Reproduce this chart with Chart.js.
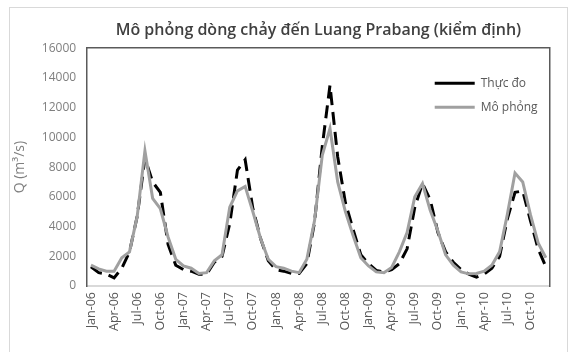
<!DOCTYPE html>
<html lang="vi">
<head>
    <meta charset="UTF-8">
    <title>Mô phỏng dòng chảy đến Luang Prabang</title>
    <script src="https://cdn.jsdelivr.net/npm/chart.js"></script>
    <style>
        html, body { margin: 0; padding: 0; background: #fff; overflow: hidden; }
        .khung { position: absolute; left: 9px; top: 7px; width: 557px; height: 360px; border: 1px solid #d9d9d9; background: #fff; }
        canvas { display: block; }
    </style>
</head>
<body>
    <div class="khung">
        <canvas id="bieudo" width="557" height="344"></canvas>
    </div>

    <script>
        // tháng Jan-06 .. Dec-10
        const thang = [
            'Jan-06', 'Feb-06', 'Mar-06', 'Apr-06', 'May-06', 'Jun-06', 'Jul-06', 'Aug-06', 'Sep-06', 'Oct-06', 'Nov-06', 'Dec-06',
            'Jan-07', 'Feb-07', 'Mar-07', 'Apr-07', 'May-07', 'Jun-07', 'Jul-07', 'Aug-07', 'Sep-07', 'Oct-07', 'Nov-07', 'Dec-07',
            'Jan-08', 'Feb-08', 'Mar-08', 'Apr-08', 'May-08', 'Jun-08', 'Jul-08', 'Aug-08', 'Sep-08', 'Oct-08', 'Nov-08', 'Dec-08',
            'Jan-09', 'Feb-09', 'Mar-09', 'Apr-09', 'May-09', 'Jun-09', 'Jul-09', 'Aug-09', 'Sep-09', 'Oct-09', 'Nov-09', 'Dec-09',
            'Jan-10', 'Feb-10', 'Mar-10', 'Apr-10', 'May-10', 'Jun-10', 'Jul-10', 'Aug-10', 'Sep-10', 'Oct-10', 'Nov-10', 'Dec-10'
        ];

        // Q (m3/s)
        const thucDo = [
            1300, 900, 800, 550, 1200, 2300, 4700, 8600, 7000, 6300, 2800, 1400,
            1100, 1000, 800, 800, 1600, 2000, 4200, 7800, 8500, 5200, 3200, 1700,
            1100, 1000, 850, 850, 1500, 4300, 9400, 13500, 8700, 5600, 3800, 2100,
            1500, 1050, 950, 1100, 1500, 2500, 5300, 6900, 5800, 3600, 2300, 1600,
            1100, 800, 600, 800, 1200, 2000, 4500, 6300, 6400, 4400, 2500, 1300
        ];
        const moPhong = [
            1400, 1150, 1000, 1000, 1900, 2300, 4700, 9100, 5900, 5200, 3300, 1800,
            1350, 1200, 850, 900, 1700, 2100, 5300, 6400, 6700, 5000, 3200, 1800,
            1300, 1200, 1000, 900, 1800, 4400, 8800, 10600, 7000, 5000, 3400, 1900,
            1350, 950, 900, 1250, 2300, 3600, 6000, 6900, 5100, 3700, 2100, 1400,
            950, 820, 850, 1000, 1400, 2300, 4800, 7600, 7000, 4800, 2900, 1900
        ];

        const tenChuoi = ['Thực đo', 'Mô phỏng'];
        const tieuDe = 'Mô phỏng dòng chảy đến Luang Prabang (kiểm định)';
        const tieuDeTrucY = 'Q (m³/s)';

        const font = "'Open Sans', 'Liberation Sans', sans-serif";
        const vienDam = { display: true, color: '#5a5a5a', width: 1.5 };

        // đặt chú thích vào góc trên bên phải vùng vẽ
        const chuThichTrong = {
            id: 'chuThichTrong',
            afterLayout(chart) {
                const lg = chart.legend, a = chart.chartArea;
                lg.left = a.right - 127;
                lg.right = a.right;
                lg.top = a.top + 17;
                lg.bottom = lg.top + 70;
                lg.width = lg.right - lg.left;
                lg.height = lg.bottom - lg.top;
            }
        };

        new Chart(document.getElementById('bieudo'), {
            type: 'line',
            data: {
                labels: thang,
                datasets: [
                    { label: tenChuoi[0], data: thucDo, borderColor: '#000000', backgroundColor: '#000000', borderWidth: 3, borderDash: [13, 7], pointRadius: 0, tension: 0, order: 1 },
                    { label: tenChuoi[1], data: moPhong, borderColor: '#a0a0a0', backgroundColor: '#a0a0a0', borderWidth: 3, pointRadius: 0, tension: 0, order: 0 }
                ]
            },
            options: {
                responsive: false,
                animation: false,
                layout: { padding: { left: 0, right: 14, top: 0, bottom: 15 } },
                plugins: {
                    tooltip: { enabled: false },
                    title: {
                        display: true, text: tieuDe, fullSize: false, color: '#404040',
                        font: { family: font, size: 16, weight: '600' },
                        padding: { top: 13, bottom: 8 }
                    },
                    legend: {
                        position: 'chartArea', align: 'start',
                        labels: {
                            usePointStyle: true, pointStyle: 'line', pointStyleWidth: 40, boxHeight: 12,
                            padding: 12, color: '#595959', font: { family: font, size: 12 },
                            sort: (a, b) => a.datasetIndex - b.datasetIndex
                        }
                    }
                },
                scales: {
                    x: {
                        offset: true,
                        grid: { display: false, drawTicks: false },
                        border: { display: true, color: '#d9d9d9', width: 2 },
                        ticks: {
                            autoSkip: false, minRotation: 90, maxRotation: 90, padding: 6,
                            color: '#595959', font: { family: font, size: 12.5 },
                            callback: function (v, i) { return i % 3 === 0 ? this.getLabelForValue(v) : ''; }
                        }
                    },
                    xTren: {
                        type: 'category', position: 'top', offset: true,
                        grid: { display: false, drawTicks: false },
                        border: vienDam,
                        ticks: { display: false }
                    },
                    y: {
                        min: 0, max: 16000,
                        grid: { display: false, drawTicks: false },
                        border: vienDam,
                        ticks: { stepSize: 2000, padding: 11, color: '#7f7f7f', font: { family: font, size: 12 }, callback: v => String(v) },
                        title: { display: true, text: tieuDeTrucY, color: '#7f7f7f', font: { family: font, size: 14 }, padding: { top: 2, bottom: 2 } }
                    },
                    yPhai: {
                        type: 'linear', position: 'right', min: 0, max: 16000,
                        grid: { display: false, drawTicks: false },
                        border: vienDam,
                        ticks: { display: false }
                    }
                }
            },
            plugins: [chuThichTrong]
        });
    </script>
</body>
</html>
